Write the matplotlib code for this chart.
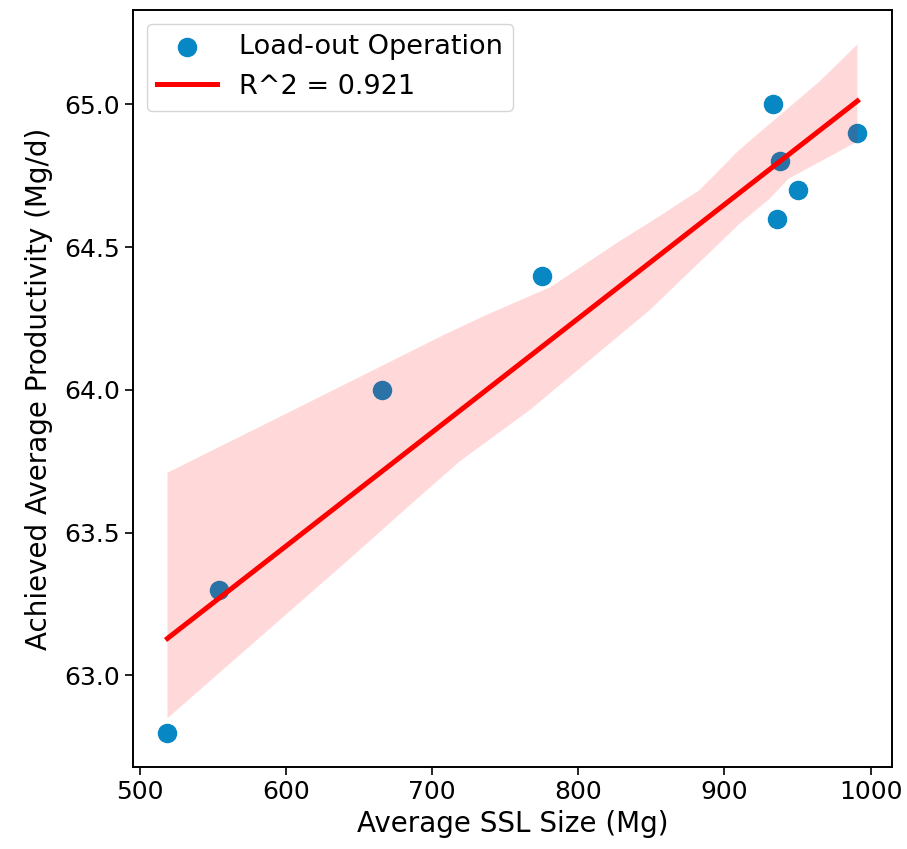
import numpy as np
import matplotlib
matplotlib.use("Agg")
import matplotlib.pyplot as plt

# scatter data
ssl_size = [519, 554, 666, 775, 933, 936, 938, 950, 991]
productivity = [62.8, 63.3, 64.0, 64.4, 65.0, 64.6, 64.8, 64.7, 64.9]

# confidence band edges
band_hi_x = [519, 621, 707, 736, 781, 828, 856, 883, 910, 965, 991]
band_hi_y = [63.71, 63.97, 64.19, 64.26, 64.36, 64.52, 64.61, 64.70, 64.84, 65.08, 65.21]
band_lo_x = [519, 644, 690, 719, 767, 849, 910, 931, 944, 991]
band_lo_y = [62.85, 63.41, 63.62, 63.75, 63.93, 64.28, 64.58, 64.67, 64.74, 64.87]

r2_label = "R^2 = 0.921"

plt.rcParams['font.family'] = ['DejaVu Sans']
plt.rcParams['font.size'] = 18

fig = plt.figure(figsize=(9.07, 8.49), dpi=100)
ax = fig.add_axes([0.1466, 0.0966, 0.8368, 0.8916])

ax.scatter(ssl_size, productivity, s=170, color="#0787c4", label="Load-out Operation", zorder=2)

slope, intercept = np.polyfit(ssl_size, productivity, 1)
x_fit = np.array([min(ssl_size), max(ssl_size)])
ax.fill(band_hi_x + band_lo_x[::-1], band_hi_y + band_lo_y[::-1],
        color="red", alpha=0.15, lw=0, zorder=3)
ax.plot(x_fit, slope * x_fit + intercept, color="red", lw=3.6, label=r2_label, zorder=4)

ax.set_xlabel("Average SSL Size (Mg)", fontsize=20, labelpad=4)
ax.set_ylabel("Achieved Average Productivity (Mg/d)", fontsize=20, labelpad=8)
ax.set_xticks([500, 600, 700, 800, 900, 1000])
ax.set_yticks([63.0, 63.5, 64.0, 64.5, 65.0])
for sp in ax.spines.values():
    sp.set_linewidth(1.4)
ax.tick_params(width=1.2, length=6, labelsize=18)

ax.legend(loc="upper left", fontsize=19.5, borderaxespad=0.5, handlelength=2.2)

fig.savefig("out.png", dpi=100)
